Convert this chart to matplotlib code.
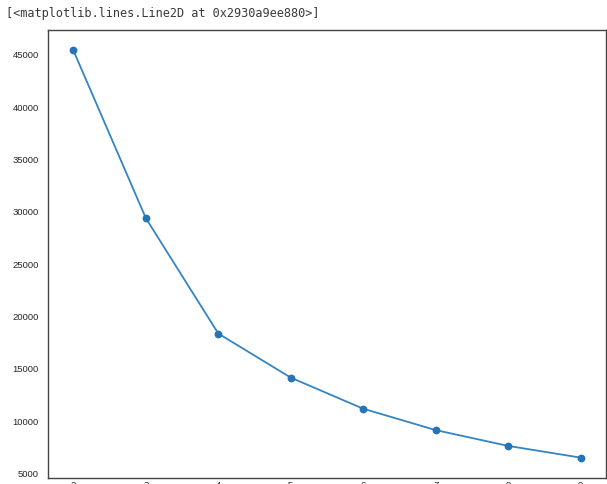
import matplotlib
matplotlib.use("Agg")
import matplotlib.pyplot as plt

# elbow curve: number of clusters vs inertia
k_values = [2, 3, 4, 5, 6, 7, 8, 9]
inertia = [45410, 29390, 18370, 14160, 11190, 9150, 7640, 6520]
y_ticks = [5000, 10000, 15000, 20000, 25000, 30000, 35000, 40000, 45000]

plt.rcParams['font.family'] = ['Liberation Sans', 'DejaVu Sans']

fig = plt.figure(figsize=(6.07, 4.84), dpi=100)
ax = fig.add_axes([48 / 607, 6 / 484, 558 / 607, 448 / 484])

# notebook cell output text
fig.text(6 / 607, 1 - 13 / 484, '[<matplotlib.lines.Line2D at 0x2930a9ee880>]',
         family='DejaVu Sans Mono', fontsize=8.6, color='#3a3a3a', va='center', ha='left')

ax.plot(k_values, inertia, color='#3385c4', linewidth=1.3, marker='o',
        markersize=4.6, markerfacecolor='#2574b5', markeredgecolor='#2574b5')

ax.set_yticks(y_ticks)
ax.set_xticks(k_values)
ax.tick_params(axis='both', length=0, labelsize=6.8, colors='#262626')
ax.tick_params(axis='x', pad=2)
ax.tick_params(axis='y', pad=6.5)

for s in ax.spines.values():
    s.set_color('#444444')
    s.set_linewidth(1.0)
ax.grid(False)

fig.savefig('out.png', dpi=100)
